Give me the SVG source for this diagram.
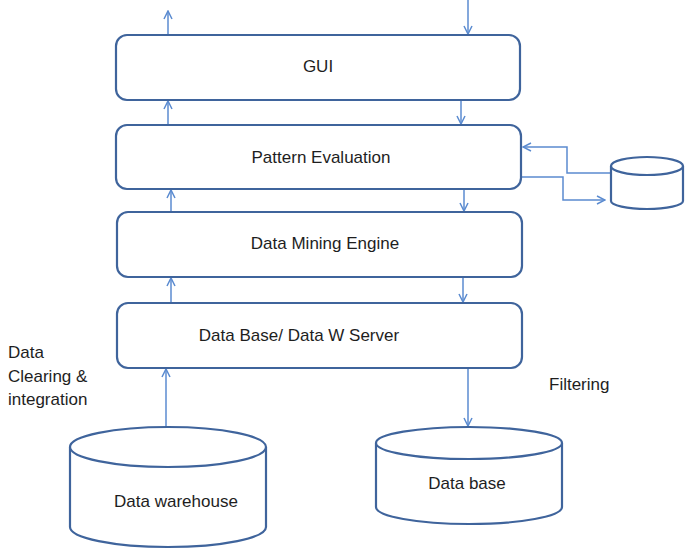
<svg xmlns="http://www.w3.org/2000/svg" width="685" height="550" viewBox="0 0 685 550">
<style>
.box{fill:#fff;stroke:#3f649c;stroke-width:2.2}
.cyl{fill:#fff;stroke:#3f649c;stroke-width:2.2}
.c{fill:none;stroke:#5b8bd0;stroke-width:1.5}
text{font-family:"Liberation Sans",Arial,sans-serif;font-size:17px;fill:#1e1e1e}
.m{text-anchor:middle}
</style>
<defs>
<marker id="ah" viewBox="0 0 10 10" refX="9" refY="5" markerWidth="10" markerHeight="10" markerUnits="userSpaceOnUse" orient="auto">
<path d="M1,1 L9,5 L1,9" fill="none" stroke="#5b8bd0" stroke-width="1.5"/>
</marker>
</defs>
<g id="connectors">
<line class="c" x1="168" y1="35" x2="168" y2="11" marker-end="url(#ah)"/>
<line class="c" x1="468" y1="0" x2="468" y2="34" marker-end="url(#ah)"/>
<line class="c" x1="168" y1="125" x2="168" y2="101" marker-end="url(#ah)"/>
<line class="c" x1="461" y1="100" x2="461" y2="124" marker-end="url(#ah)"/>
<line class="c" x1="171" y1="212" x2="171" y2="190" marker-end="url(#ah)"/>
<line class="c" x1="464" y1="189" x2="464" y2="211" marker-end="url(#ah)"/>
<line class="c" x1="171" y1="303" x2="171" y2="278" marker-end="url(#ah)"/>
<line class="c" x1="463" y1="277" x2="463" y2="302" marker-end="url(#ah)"/>
<line class="c" x1="166" y1="427" x2="166" y2="369" marker-end="url(#ah)"/>
<line class="c" x1="468" y1="368" x2="468" y2="426" marker-end="url(#ah)"/>
<polyline class="c" points="611,173 567,173 567,147 523,147" marker-end="url(#ah)"/>
<polyline class="c" points="521,177 563,177 563,200 605,200" marker-end="url(#ah)"/>
</g>
<g id="gui">
<rect class="box" x="116" y="35" width="404" height="65" rx="11"/>
<text class="m" x="318" y="72">GUI</text>
</g>
<g id="pattern-evaluation">
<rect class="box" x="116" y="125" width="405" height="64" rx="11"/>
<text class="m" x="321" y="163">Pattern Evaluation</text>
</g>
<g id="data-mining-engine">
<rect class="box" x="117" y="212" width="405" height="65" rx="11"/>
<text class="m" x="325" y="249">Data Mining Engine</text>
</g>
<g id="db-server">
<rect class="box" x="117" y="303" width="405" height="65" rx="11"/>
<text class="m" x="299" y="341">Data Base/ Data W Server</text>
</g>
<g id="small-db">
<path class="cyl" d="M611,166 L611,201 A36,8 0 0 0 683,201 L683,166"/>
<ellipse class="cyl" cx="647" cy="166" rx="36" ry="9"/>
</g>
<g id="data-warehouse">
<path class="cyl" d="M70,447 L70,527 A98,20 0 0 0 266,527 L266,447"/>
<ellipse class="cyl" cx="168" cy="447" rx="98" ry="20"/>
<text class="m" x="176" y="507">Data warehouse</text>
</g>
<g id="data-base">
<path class="cyl" d="M376,443 L376,507 A93,17 0 0 0 562,507 L562,443"/>
<ellipse class="cyl" cx="469" cy="443" rx="93" ry="16"/>
<text class="m" x="467" y="489">Data base</text>
</g>
<g id="labels">
<text x="8" y="358">Data</text>
<text x="8" y="382">Clearing &amp;</text>
<text x="8" y="405">integration</text>
<text x="549" y="390">Filtering</text>
</g>
</svg>
